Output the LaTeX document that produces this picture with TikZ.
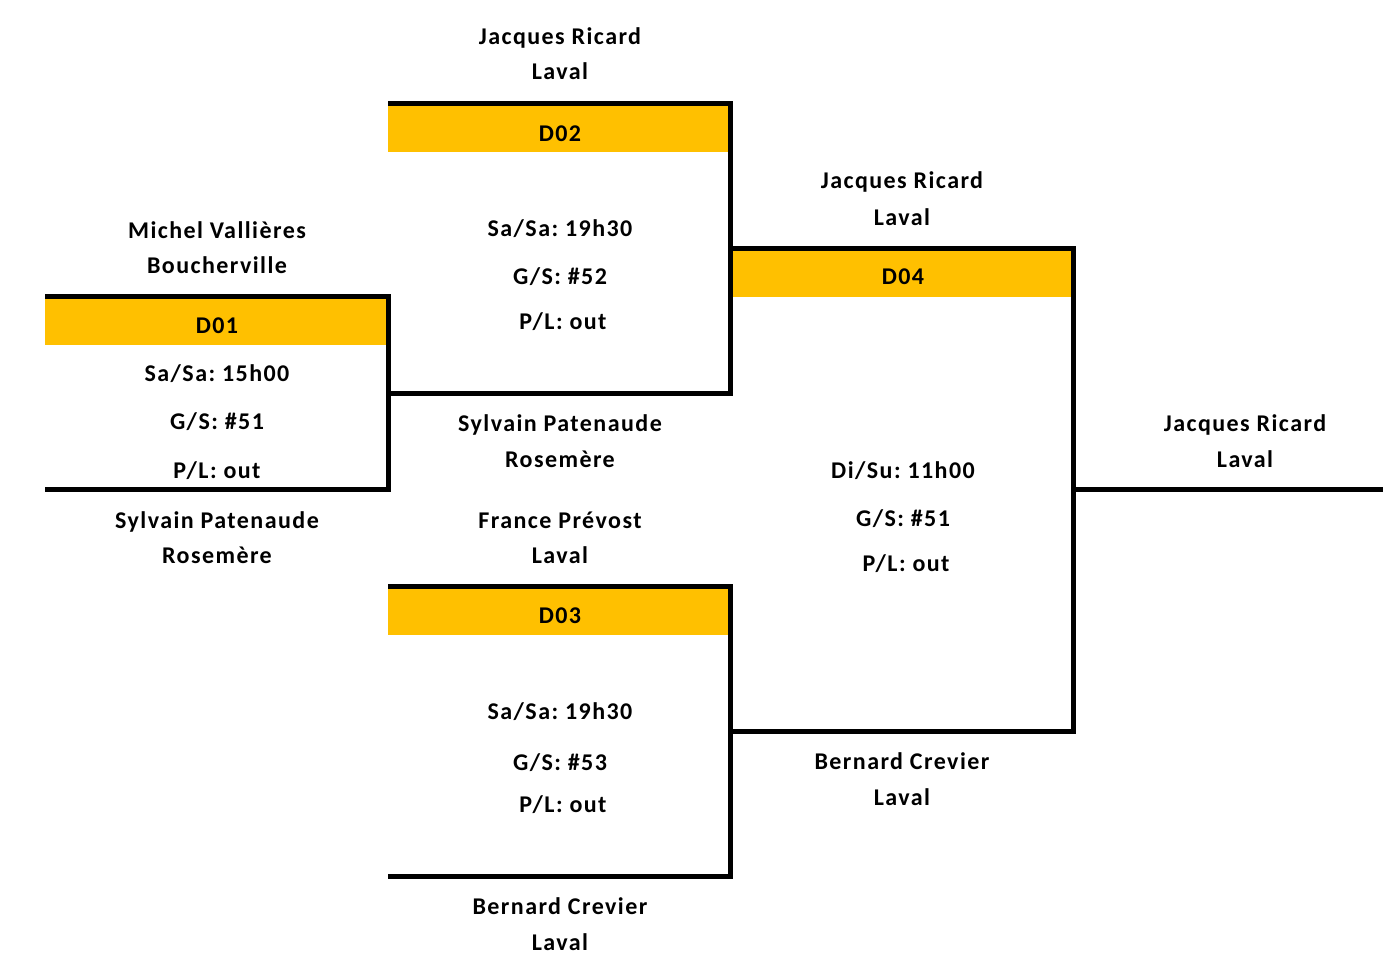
\documentclass[tikz,border=0pt]{standalone}
\usepackage{fontspec}
\setmainfont{Carlito}[LetterSpace=6]
\frenchspacing
\definecolor{hdr}{HTML}{FFC000}
\begin{document}
\frenchspacing
\begin{tikzpicture}[x=1pt,y=-1pt,
  lbl/.style={anchor=base,inner sep=0pt,font=\fontsize{24}{28}\selectfont\bfseries},
  bline/.style={line width=5pt,line cap=butt,line join=miter},
  hdrbox/.style={fill=hdr}]
\useasboundingbox (0,0) rectangle (1383,960);
% header fills
\fill[hdrbox] (45,299) rectangle (386,345);
\fill[hdrbox] (388,106) rectangle (728,152);
\fill[hdrbox] (388,589) rectangle (728,635);
\fill[hdrbox] (733,251) rectangle (1071,297);
% bracket lines
\coordinate (a1) at (45,296.5); \coordinate (a2) at (388.5,296.5);
\coordinate (a3) at (388.5,489); \coordinate (a4) at (45,489);
\draw[bline] (a1) -- (a2) -- (a3) -- (a4);
\coordinate (b1) at (388,103.5); \coordinate (b2) at (730.2,103.5);
\coordinate (b3) at (730.2,393.5); \coordinate (b4) at (388.5,393.5);
\draw[bline] (b1) -- (b2) -- (b3) -- (b4);
\coordinate (c1) at (388,586.5); \coordinate (c2) at (730.5,586.5);
\coordinate (c3) at (730.5,876.5); \coordinate (c4) at (388,876.5);
\draw[bline] (c1) -- (c2) -- (c3) -- (c4);
\coordinate (d1) at (730.5,248); \coordinate (d2) at (1073.3,248);
\coordinate (d3) at (1073.3,731.5); \coordinate (d4) at (730.5,731.5);
\draw[bline] (d1) -- (d2) -- (d3) -- (d4);
\coordinate (e1) at (1073.3,489); \coordinate (e2) at (1383,489);
\draw[bline] (e1) -- (e2);
% D01
\node[lbl] (t1) at (217,238) {Michel Vallières};
\node[lbl] (t2) at (217,273) {Boucherville};
\node[lbl] (h1) at (217,333) {D01};
\node[lbl] (s1) at (217,381) {Sa/Sa: 15h00};
\node[lbl] (g1) at (217,429) {G/S: \#51};
\node[lbl] (p1) at (217,478) {P/L: out};
\node[lbl] (t3) at (217,528) {Sylvain Patenaude};
\node[lbl] (t4) at (217,563) {Rosemère};
% D02
\node[lbl] (t5) at (560,45) {Jacques Ricard};
\node[lbl] (t6) at (560,80) {Laval};
\node[lbl] (h2) at (560,142) {D02};
\node[lbl] (s2) at (560,236) {Sa/Sa: 19h30};
\node[lbl] (g2) at (560,284) {G/S: \#52};
\node[lbl] (p2) at (563,329) {P/L: out};
\node[lbl] (t7) at (560,431) {Sylvain Patenaude};
\node[lbl] (t8) at (560,467) {Rosemère};
% D03
\node[lbl] (t9) at (560,528) {France Prévost};
\node[lbl] (t10) at (560,563) {Laval};
\node[lbl] (h3) at (560,623) {D03};
\node[lbl] (s3) at (560,719) {Sa/Sa: 19h30};
\node[lbl] (g3) at (560,770) {G/S: \#53};
\node[lbl] (p3) at (563,812) {P/L: out};
\node[lbl] (t11) at (560,914) {Bernard Crevier};
\node[lbl] (t12) at (560,950) {Laval};
% D04
\node[lbl] (t13) at (902,189) {Jacques Ricard};
\node[lbl] (t14) at (902,225) {Laval};
\node[lbl] (h4) at (903,284) {D04};
\node[lbl] (s4) at (903,478) {Di/Su: 11h00};
\node[lbl] (g4) at (903,526) {G/S: \#51};
\node[lbl] (p4) at (906,571) {P/L: out};
\node[lbl] (t15) at (902,769) {Bernard Crevier};
\node[lbl] (t16) at (902,805) {Laval};
% final
\node[lbl] (t17) at (1245,431) {Jacques Ricard};
\node[lbl] (t18) at (1245,467) {Laval};
\end{tikzpicture}
\end{document}
